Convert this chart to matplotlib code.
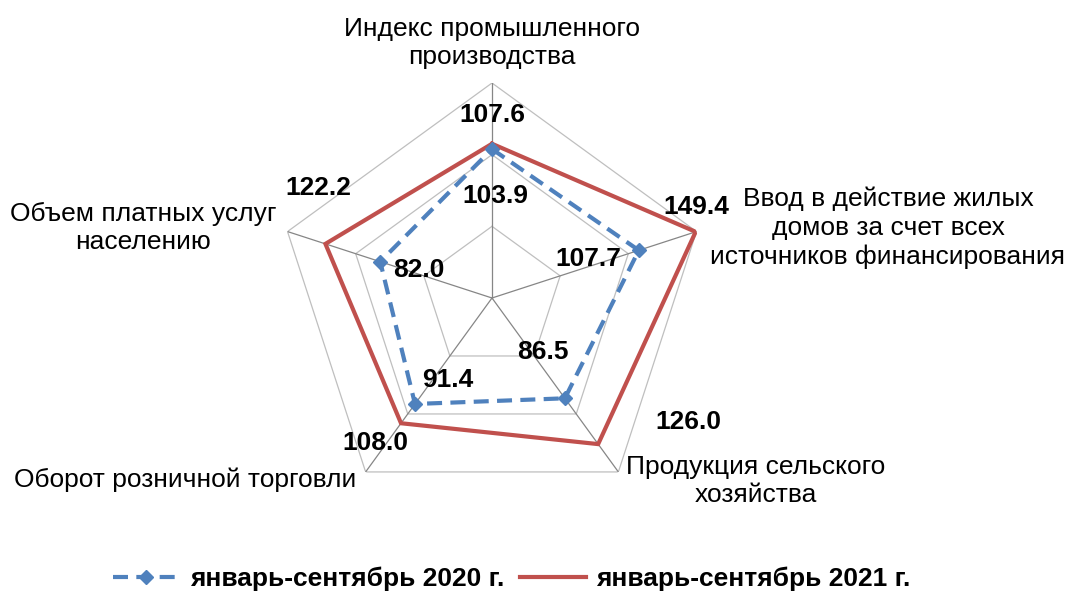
import matplotlib.pyplot as plt
import numpy as np

plt.rcParams['font.family'] = ['Liberation Sans', 'DejaVu Sans']

# categories, clockwise from the top
categories = [
    "Индекс промышленного\nпроизводства",
    "Ввод в действие жилых\nдомов за счет всех\nисточников финансирования",
    "Продукция сельского\nхозяйства",
    "Оборот розничной торговли",
    "Объем платных услуг\nнаселению",
]
series_2020 = [103.9, 107.7, 86.5, 91.4, 82.0]
series_2021 = [107.6, 149.4, 126.0, 108.0, 122.2]
labels_2020 = ["103.9", "107.7", "86.5", "91.4", "82.0"]
labels_2021 = ["107.6", "149.4", "126.0", "108.0", "122.2"]
legend_names = ["январь-сентябрь 2020 г.", "январь-сентябрь 2021 г."]
rings = [50, 100, 150]

blue = '#4F81BD'
red = '#C0504D'
FS = 19

W, H = 1067, 592
fig = plt.figure(figsize=(W / 100, H / 100), dpi=100)

# polar axes centred at (492, 298) px, radius 215 px
cx, cy, R = 492, 298, 215
ax = fig.add_axes([(cx - R) / W, (H - cy - R) / H, 2 * R / W, 2 * R / H],
                  projection='polar')
ax.set_theta_offset(np.pi / 2)
ax.set_theta_direction(-1)
ax.set_ylim(0, 150)
ax.axis('off')

n = len(categories)
angles = np.arange(n) * 2 * np.pi / n
closed = np.append(angles, angles[0])

# pentagon grid
for r in rings:
    ax.plot(closed, [r] * (n + 1), color='#BFBFBF', lw=0.9, zorder=1)
for a in angles:
    ax.plot([a, a], [0, rings[-1]], color='#868686', lw=0.9, zorder=1)

v21 = np.append(series_2021, series_2021[0])
v20 = np.append(series_2020, series_2020[0])
l21, = ax.plot(closed, v21, color=red, lw=3, zorder=3, solid_joinstyle='miter')
l20, = ax.plot(closed, v20, color=blue, lw=3, zorder=4, dashes=(3.6, 2),
               dash_capstyle='butt', marker='D', ms=7, markevery=range(n),
               clip_on=False)

# data label offsets in pixels (dx, dy up)
off_2021 = [(0, 29), (1, 25), (90, 22), (-26, -20), (-7, 56)]
off_2020 = [(3, -47), (-51, -9), (-22, 46), (33, 24), (39, -8)]
for a, v, t, o in zip(angles, series_2021, labels_2021, off_2021):
    ax.annotate(t, (a, v), xytext=o, textcoords='offset pixels',
                ha='center', va='center', fontsize=FS, fontweight='bold',
                zorder=6, annotation_clip=False)
for a, v, t, o in zip(angles, series_2020, labels_2020, off_2020):
    ax.annotate(t, (a, v), xytext=o, textcoords='offset pixels',
                ha='center', va='center', fontsize=FS, fontweight='bold',
                zorder=6, annotation_clip=False)

# category labels (pixel centres)
cat_pos = [(492, 43), (888, 228), (756, 481), (185, 480), (143, 228)]
for t, (px, py) in zip(categories, cat_pos):
    fig.text(px / W, 1 - py / H, t, ha='center', va='center',
             fontsize=FS, linespacing=1.25)

fig.legend([l20, l21], legend_names, loc='center', ncol=2,
           bbox_to_anchor=(512 / W, 1 - 579 / H), frameon=False,
           prop={'weight': 'bold', 'size': FS}, handlelength=2.5,
           handletextpad=0.4, columnspacing=0.6, numpoints=1,
           borderpad=0.1)

fig.savefig('out.png', dpi=100)
